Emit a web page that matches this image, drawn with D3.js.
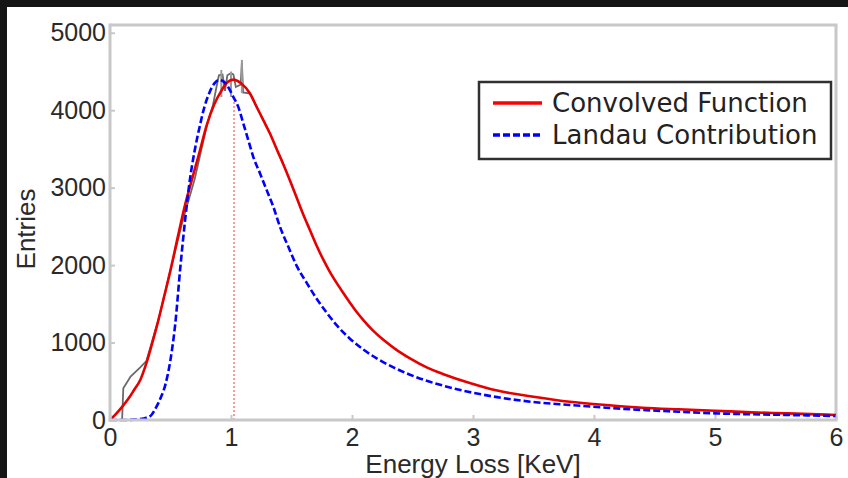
<!DOCTYPE html>
<html>
<head>
<meta charset="utf-8">
<script src="https://cdn.jsdelivr.net/npm/d3@7/dist/d3.min.js"></script>
<style>
  html, body { margin: 0; padding: 0; background: #ffffff; }
  svg { display: block; }
</style>
</head>
<body>
<svg id="chart" width="848" height="478"></svg>
<script>
// Axis ticks
const xTicks = [0, 1, 2, 3, 4, 5, 6];
const yTicks = [0, 1000, 2000, 3000, 4000, 5000];

// Convolved function (Landau ⊗ Gauss fit), energy loss in keV vs entries
const convolvedX = [0, 0.05, 0.1, 0.15, 0.2, 0.25, 0.3, 0.35, 0.4, 0.45, 0.5, 0.56, 0.62, 0.68, 0.74, 0.8,
  0.86, 0.92, 0.97, 1.02, 1.08, 1.157, 1.212, 1.267, 1.322, 1.377, 1.433, 1.488, 1.543, 1.598, 1.653,
  1.708, 1.763, 1.818, 1.873, 1.928, 1.983, 2.039, 2.094, 2.176, 2.259, 2.37, 2.479, 2.617, 2.75, 2.96,
  3.2, 3.5, 3.8, 4.1, 4.4, 4.7, 5.0, 5.3, 5.6, 6.0];
const convolvedY = [0, 80, 170, 270, 390, 516, 730, 1000, 1290, 1610, 1935, 2361, 2775, 3120, 3460, 3810,
  4070, 4250, 4360, 4395, 4350, 4215, 4043, 3871, 3699, 3500, 3300, 3090, 2870, 2650, 2450,
  2250, 2070, 1910, 1770, 1640, 1515, 1395, 1290, 1150, 1035, 903, 796, 680, 595, 485,
  380, 301, 236, 194, 159, 138, 120, 99, 86, 65];

// Landau contribution
const landauX = [0, 0.1, 0.2, 0.25, 0.3, 0.34, 0.38, 0.42, 0.46, 0.5, 0.54, 0.58, 0.62, 0.66, 0.7, 0.74,
  0.78, 0.82, 0.86, 0.9, 0.94, 0.98, 1.019, 1.06, 1.102, 1.143, 1.184, 1.24, 1.295, 1.35, 1.405, 1.474,
  1.543, 1.626, 1.708, 1.791, 1.873, 1.983, 2.094, 2.204, 2.342, 2.479, 2.6, 2.75, 2.96, 3.2, 3.5,
  3.8, 4.1, 4.4, 4.7, 5.0, 5.3, 5.6, 6.0];
const landauY = [0, 0, 5, 12, 30, 60, 160, 290, 470, 780, 1250, 1950, 2570, 3100, 3480, 3781,
  4040, 4220, 4340, 4390, 4370, 4290, 4172, 4043, 3828, 3613, 3398, 3183, 2968, 2752, 2494, 2236,
  1990, 1770, 1565, 1385, 1225, 1050, 910, 795, 680, 585, 515, 445, 365, 295, 232,
  194, 159, 129, 107, 86, 74, 65, 52];

// Measured energy-loss distribution (rising edge and peak region)
const histX = [0, 0.1, 0.11, 0.17, 0.25, 0.3, 0.4, 0.5, 0.6, 0.7, 0.8, 0.85, 0.88, 0.9, 0.93, 0.95, 0.97,
  1.0, 1.02, 1.04, 1.08, 1.09, 1.1, 1.157, 1.212];
const histY = [0, 0, 410, 560, 680, 760, 1290, 1935, 2570, 3110, 3800, 4060, 4300, 4450, 4460, 4250, 4450,
  4480, 4460, 4300, 4330, 4620, 4230, 4215, 4043];

// Vertical uncertainty marks around the peak: [x, low, high]
const errorBars = [[0.92, 4170, 4520], [1.0, 4170, 4500], [1.09, 4220, 4650]];

// Most probable value of the convolved function
const peakX = 1.025;
const peakLineTop = 4160;

const seriesNames = ["Convolved Function", "Landau Contribution"];

const svg = d3.select("#chart");
const W = 848, H = 478;
const plot = { left: 110, right: 836, top: 25, bottom: 420 };

const x = d3.scaleLinear().domain([0, 6]).range([plot.left, plot.right]);
const y = d3.scaleLinear().domain([0, 5100]).range([plot.bottom, plot.top]);

svg.append("rect").attr("width", W).attr("height", H).attr("fill", "#ffffff");

const axisColor = "#c8c8c8";
const labelFont = "'Liberation Sans', Arial, Helvetica, sans-serif";

// Top and right frame lines
svg.append("line").attr("x1", plot.left).attr("x2", plot.right + 1.5)
  .attr("y1", plot.top).attr("y2", plot.top).attr("stroke", axisColor).attr("stroke-width", 3);
svg.append("line").attr("x1", plot.right).attr("x2", plot.right)
  .attr("y1", plot.top).attr("y2", plot.bottom).attr("stroke", axisColor).attr("stroke-width", 3);

// Curves
const toPoints = (xs, ys) => xs.map((v, i) => [v, ys[i]]);
const line = d3.line().x(d => x(d[0])).y(d => y(d[1]));
const smooth = d3.line().x(d => x(d[0])).y(d => y(d[1])).curve(d3.curveMonotoneX);

const g = svg.append("g");

g.append("path").datum(toPoints(histX, histY))
  .attr("d", line).attr("fill", "none")
  .attr("stroke", "#6a6a6a").attr("stroke-width", 1.8);

g.selectAll("line.err").data(errorBars).enter().append("line")
  .attr("class", "err")
  .attr("x1", d => x(d[0])).attr("x2", d => x(d[0]))
  .attr("y1", d => y(d[1])).attr("y2", d => y(d[2]))
  .attr("stroke", "#9a9a9a").attr("stroke-width", 2);

g.append("line")
  .attr("x1", x(peakX)).attr("x2", x(peakX))
  .attr("y1", y(0)).attr("y2", y(peakLineTop))
  .attr("stroke", "#ff9a9a").attr("stroke-width", 2).attr("stroke-dasharray", "2,2");

g.append("path").datum(toPoints(convolvedX, convolvedY))
  .attr("d", smooth).attr("fill", "none")
  .attr("stroke", "#e60000").attr("stroke-width", 2.6).attr("stroke-linejoin", "round");

g.append("path").datum(toPoints(landauX, landauY))
  .attr("d", smooth).attr("fill", "none")
  .attr("stroke", "#0000ff").attr("stroke-width", 2.6).attr("stroke-dasharray", "7,3");

// Axes
const xAxis = d3.axisBottom(x).tickValues(xTicks).tickFormat(d3.format("d"))
  .tickSizeInner(-5).tickSizeOuter(0).tickPadding(8);
const yAxis = d3.axisLeft(y).tickValues(yTicks).tickFormat(d3.format("d"))
  .tickSizeInner(-5).tickSizeOuter(0).tickPadding(4);

const gx = svg.append("g").attr("transform", `translate(0,${plot.bottom})`).call(xAxis);
const gy = svg.append("g").attr("transform", `translate(${plot.left},0)`).call(yAxis);

[gx, gy].forEach(a => {
  a.select(".domain").attr("stroke", axisColor).attr("stroke-width", 3);
  a.selectAll(".tick line").attr("stroke", axisColor).attr("stroke-width", 2);
  a.selectAll(".tick text").attr("fill", "#2a2a2a")
    .style("font-family", labelFont).style("font-size", "25px");
});
gx.select(".domain").attr("d", `M${plot.left - 1.5},0H${plot.right + 1.5}`);
gy.select(".domain").attr("d", `M0,${plot.bottom + 1.5}V${plot.top - 1.5}`);

// Axis titles
svg.append("text")
  .attr("x", x(3)).attr("y", 473)
  .attr("text-anchor", "middle")
  .attr("fill", "#2a2a2a")
  .style("font-family", labelFont).style("font-size", "26px")
  .text("Energy Loss [KeV]");

svg.append("text")
  .attr("transform", "translate(35,229) rotate(-90)")
  .attr("text-anchor", "middle")
  .attr("fill", "#2a2a2a")
  .style("font-family", labelFont).style("font-size", "26px")
  .text("Entries");

// Legend
const legend = svg.append("g");
legend.append("rect")
  .attr("x", 479).attr("y", 82).attr("width", 352).attr("height", 77)
  .attr("fill", "#ffffff").attr("stroke", "#303030").attr("stroke-width", 2.5);

const legendStyles = [
  { color: "#ff0000", dash: null },
  { color: "#0000ff", dash: "7,3" }
];
seriesNames.forEach((name, i) => {
  const yy = 103 + i * 32;
  legend.append("line")
    .attr("x1", 493).attr("x2", 542).attr("y1", yy).attr("y2", yy)
    .attr("stroke", legendStyles[i].color).attr("stroke-width", 3.5)
    .attr("stroke-dasharray", legendStyles[i].dash);
  legend.append("text")
    .attr("x", 552).attr("y", yy + 9)
    .attr("fill", "#222")
    .style("font-family", "'DejaVu Sans', Verdana, sans-serif").style("font-size", "26px")
    .text(name);
});

// Dark framing band along the top and left edges
svg.append("rect").attr("x", 0).attr("y", 0).attr("width", W).attr("height", 7).attr("fill", "#151515");
svg.append("rect").attr("x", 0).attr("y", 0).attr("width", 7).attr("height", H).attr("fill", "#151515");
</script>
</body>
</html>
